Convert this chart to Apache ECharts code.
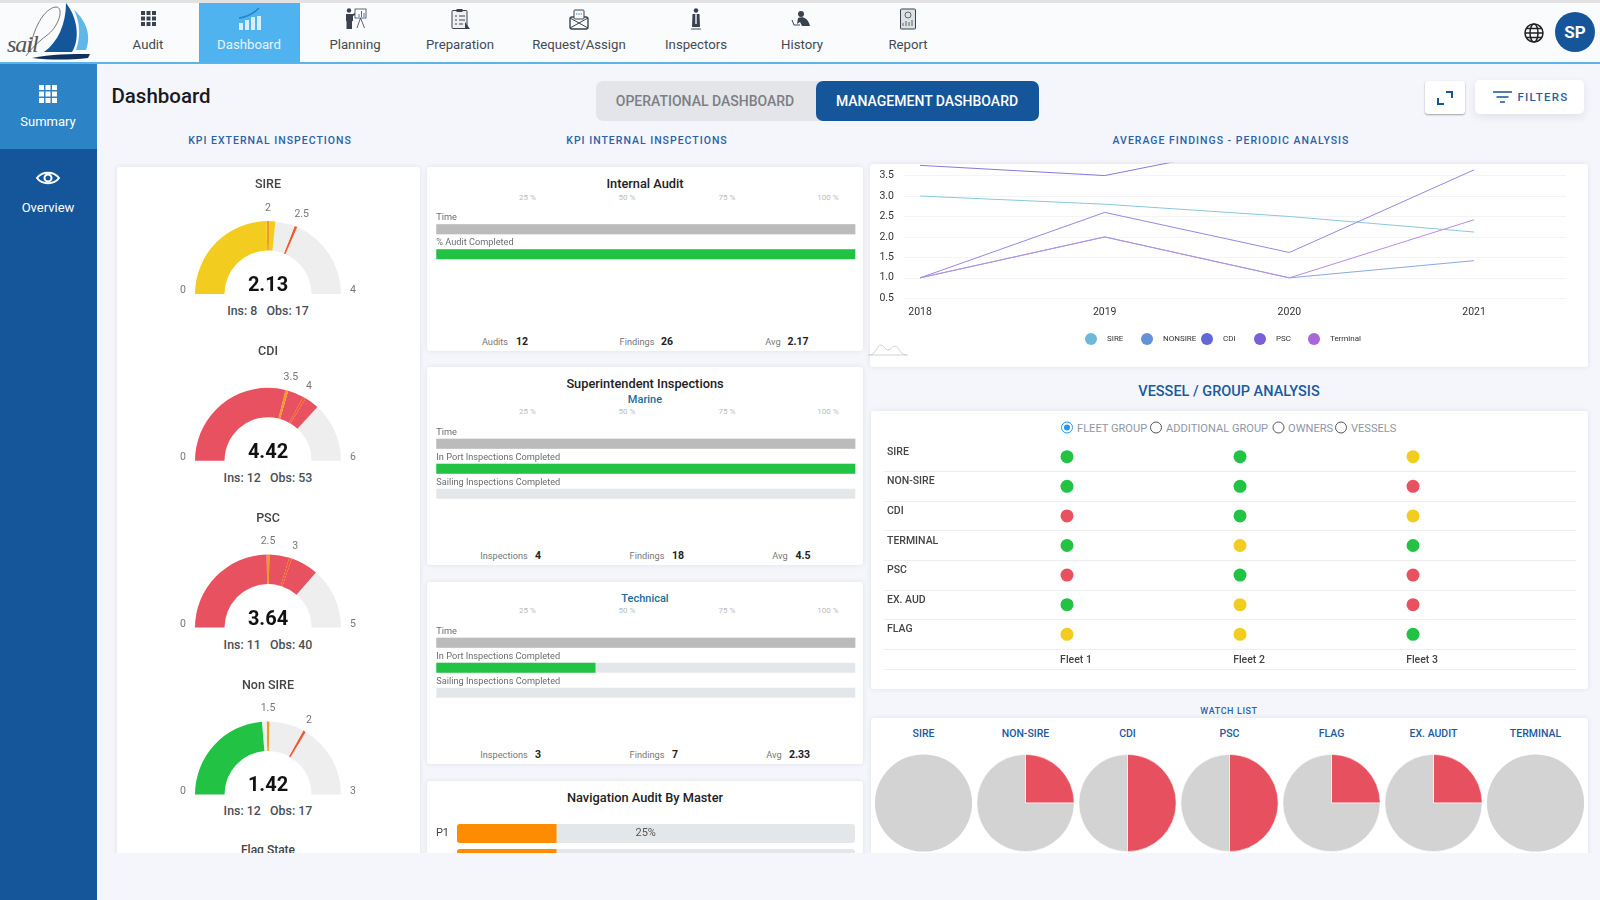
<!DOCTYPE html>
<html>
<head>
<meta charset="utf-8">
<title>Dashboard</title>
<script src="https://cdn.jsdelivr.net/npm/echarts@6/dist/echarts.min.js"></script>
<style>
	html,body{margin:0;padding:0;width:1600px;height:900px;overflow:hidden;background:#f5f6fb;font-family:Roboto,sans-serif;color:#444;}
	.box{position:absolute;box-sizing:border-box;}
	.card{position:absolute;background:#fff;border-radius:3px;box-shadow:0 0 5px rgba(40,50,90,.10);}
	.t{position:absolute;white-space:pre;transform:translate(-50%,-50%);line-height:1;}
	.l{position:absolute;white-space:pre;transform:translateY(-50%);line-height:1;}
	svg{position:absolute;overflow:visible;}
	#main{position:absolute;left:0;top:0;width:1600px;height:900px;z-index:2;}
	#ui{position:absolute;left:0;top:0;width:1600px;height:900px;z-index:1;}
	#cut{position:absolute;left:97px;top:852.5px;width:1503px;height:48px;background:#f5f6fb;z-index:3;}
</style>
</head>
<body>
<div id="ui">
	<!-- top bar -->
	<div class="box" style="left:0;top:0;width:1600px;height:64px;background:#fafbfd;border-top:3px solid #e2e2e2;border-bottom:2px solid #5cb4e8;"></div>
	<div class="box" style="left:199px;top:3px;width:101px;height:60px;background:#4fb3f0;"></div>
	<!-- logo -->
	<svg style="left:0;top:0" width="95" height="62">
		<path d="M66 3 C78 18 80 40 72 52 L44 52 C58 42 66 24 66 3Z" fill="#15569b"/>
		<path d="M74 10 C88 22 91 38 86 50 L76 50 C81 36 80 22 74 10Z" fill="#5fb7ea"/>
		<path d="M32 58 C50 54 72 54 90 54 L88 58 C70 60 50 60 32 58Z" fill="#10305f"/>
		<path d="M30 52 C32 30 44 8 56 7 C64 7 60 26 46 36 C38 42 30 50 26 56" fill="none" stroke="#555" stroke-width=".8"/>
	</svg>
	<div class="l" style="left:7px;top:44px;font:italic 24px 'Liberation Serif';letter-spacing:-1px;color:#555;">sail</div>
	<!-- sidebar -->
	<div class="box" style="left:0;top:64px;width:97px;height:836px;background:#15569b;"></div>
	<div class="box" style="left:0;top:64px;width:97px;height:85px;background:#2c83c5;"></div>
	<svg style="left:39px;top:85px" width="18" height="18" fill="#fff">
		<rect x="0" y="0" width="5" height="5"/><rect x="6.5" y="0" width="5" height="5"/><rect x="13" y="0" width="5" height="5"/>
		<rect x="0" y="6.5" width="5" height="5"/><rect x="6.5" y="6.5" width="5" height="5"/><rect x="13" y="6.5" width="5" height="5"/>
		<rect x="0" y="13" width="5" height="5"/><rect x="6.5" y="13" width="5" height="5"/><rect x="13" y="13" width="5" height="5"/>
	</svg>
	<div class="t" style="left:48px;top:121px;font-size:13px;color:#fff;">Summary</div>
	<svg style="left:36px;top:170px" width="24" height="16">
		<path d="M1 8 C6 1 18 1 23 8 C18 15 6 15 1 8Z" fill="none" stroke="#fff" stroke-width="2"/>
		<circle cx="12" cy="8" r="3.5" fill="none" stroke="#fff" stroke-width="2"/>
	</svg>
	<div class="t" style="left:48px;top:207px;font-size:13px;color:#fff;">Overview</div>

	<!-- nav icons -->
	<svg style="left:141px;top:11px" width="16" height="16" fill="#3a4250">
		<rect x="0" y="0" width="4" height="4"/><rect x="5.5" y="0" width="4" height="4"/><rect x="11" y="0" width="4" height="4"/>
		<rect x="0" y="5.5" width="4" height="4"/><rect x="5.5" y="5.5" width="4" height="4"/><rect x="11" y="5.5" width="4" height="4"/>
		<rect x="0" y="11" width="4" height="4"/><rect x="5.5" y="11" width="4" height="4"/><rect x="11" y="11" width="4" height="4"/>
	</svg>
	<svg style="left:238px;top:7px" width="24" height="24">
		<rect x="1" y="16" width="4" height="7" fill="#d8eefb"/><rect x="7" y="13" width="4" height="10" fill="#d8eefb"/><rect x="13" y="10" width="4" height="13" fill="#d8eefb"/><rect x="19" y="9" width="4" height="14" fill="#d8eefb"/>
		<path d="M1 11 C9 10 15 7 21 1" fill="none" stroke="#2b7fc4" stroke-width="1.5"/>
	</svg>
	<svg style="left:345px;top:8px" width="22" height="22">
		<circle cx="4" cy="2.5" r="2.2" fill="#3a4250"/><path d="M1 6 H8 L12 4 L12.5 5.5 L8 8 V13 H7 V21 H1.5 V13 H1Z" fill="#3a4250"/>
		<rect x="10" y="1" width="11" height="9" fill="#fff" stroke="#3a4250" stroke-width=".8"/><path d="M14 9v-3M16.5 9v-6M19 9v-4" stroke="#2b7fc4"/><path d="M15.5 10 L12 20 M15.5 10 L19.5 20" stroke="#3a4250" stroke-width=".8"/>
	</svg>
	<svg style="left:450px;top:8px" width="22" height="22">
		<rect x="2" y="2.5" width="15" height="18" rx="1" fill="#f0f0f0" stroke="#3a4250"/><rect x="6.5" y="1" width="6" height="3" fill="#3a4250"/>
		<path d="M5 8h2M9 8h6M5 12h2M9 12h6M5 16h2M9 16h4" stroke="#3a4250"/><path d="M15 14 L20 21 H15Z" fill="#3a4250"/>
	</svg>
	<svg style="left:568px;top:8px" width="22" height="22">
		<rect x="2" y="9" width="18" height="12" rx="2" fill="#fafbfd" stroke="#3a4250" stroke-width="1.4"/><path d="M2 10 L20 20 M20 10 L2 20" stroke="#3a4250"/>
		<rect x="6" y="2" width="10" height="9" rx="1" fill="#fafbfd" stroke="#3a4250"/><path d="M8 6h6" stroke="#2b7fc4" stroke-dasharray="1.4 1"/>
	</svg>
	<svg style="left:686px;top:8px" width="20" height="22">
		<circle cx="10" cy="2.5" r="2.3" fill="#3a4250"/><path d="M6.5 6 H13.5 L14 19 H6Z" fill="#3a4250"/><rect x="9" y="6" width="2" height="10" fill="#b8c2cc"/><path d="M5 21 H15" stroke="#9aa4ae" stroke-width="2"/>
	</svg>
	<svg style="left:791px;top:11px" width="22" height="18">
		<circle cx="10" cy="3" r="3" fill="#3a4250"/><path d="M7 7 C12 5 17 7 19 15 H11 L9 11 L6 13Z" fill="#3a4250"/><path d="M1 9 L3 14 H9" fill="none" stroke="#3a4250"/>
	</svg>
	<svg style="left:899px;top:8px" width="18" height="22">
		<rect x="1.5" y="1" width="15" height="20" rx="1" fill="#dfe2e5" stroke="#3a4250"/><circle cx="9" cy="7" r="3" fill="none" stroke="#3a4250" stroke-width=".8"/><path d="M4 18v-3M7 18v-5M10 18v-4M13 18v-6" stroke="#5a6470"/>
	</svg>

	<!-- globe and avatar -->
	<svg style="left:1524px;top:23px" width="20" height="20" fill="none" stroke="#222" stroke-width="1.5">
		<circle cx="10" cy="10" r="9"/><ellipse cx="10" cy="10" rx="4" ry="9"/><path d="M1 10h18M2.5 5.5h15M2.5 14.5h15"/>
	</svg>
	<div class="box" style="left:1555px;top:12px;width:40px;height:40px;border-radius:50%;background:#15569b;"></div>
	<div class="t" style="left:1575px;top:32px;font-size:17px;font-weight:700;color:#fff;">SP</div>

	<!-- tabs and buttons -->
	<div class="t" style="left:161px;top:96px;font-size:20.5px;font-weight:500;color:#1b1b1f;">Dashboard</div>
	<div class="box" style="left:596px;top:81px;width:230px;height:40px;border-radius:7px;background:#e4e5e8;"></div>
	<div class="box" style="left:816px;top:81px;width:223px;height:40px;border-radius:7px;background:#15569b;"></div>
	<div class="t" style="left:705px;top:101px;font-size:14px;font-weight:500;color:#7a7f87;">OPERATIONAL DASHBOARD</div>
	<div class="t" style="left:927px;top:101px;font-size:14px;font-weight:500;color:#fff;">MANAGEMENT DASHBOARD</div>
	<div class="box" style="left:1425px;top:81px;width:40px;height:33px;border-radius:3px;background:#fff;box-shadow:0 1px 2px rgba(0,0,0,.35);"></div>
	<svg style="left:1437px;top:91px" width="16" height="14" fill="none" stroke="#15569b" stroke-width="2">
		<path d="M1 7v6h6M9 1h6v6"/>
	</svg>
	<div class="box" style="left:1475px;top:80px;width:109px;height:34px;border-radius:5px;background:#fff;box-shadow:0 3px 8px rgba(40,50,90,.10);"></div>
	<svg style="left:1493px;top:90px" width="19" height="14" fill="none" stroke="#15569b" stroke-width="1.6">
		<path d="M0 2h19M3.5 7h12M7 12h5"/>
	</svg>
	<div class="t" style="left:1543px;top:97.5px;font-size:11.5px;font-weight:500;letter-spacing:1.3px;color:#2a5f9f;">FILTERS</div>

	<!-- section captions -->
	<div class="t" style="left:270px;top:141px;font-size:10.5px;font-weight:500;letter-spacing:1px;color:#2a62a8;">KPI EXTERNAL INSPECTIONS</div>
	<div class="t" style="left:647px;top:141px;font-size:10.5px;font-weight:500;letter-spacing:1px;color:#2a62a8;">KPI INTERNAL INSPECTIONS</div>
	<div class="t" style="left:1231px;top:141px;font-size:10.5px;font-weight:500;letter-spacing:1px;color:#2a62a8;">AVERAGE FINDINGS - PERIODIC ANALYSIS</div>
	<div class="t" style="left:1229px;top:392px;font-size:14.5px;font-weight:500;color:#1a5aa0;">VESSEL / GROUP ANALYSIS</div>
	<div class="t" style="left:1229px;top:711px;font-size:9px;font-weight:500;letter-spacing:.6px;color:#2a62a8;">WATCH LIST</div>

	<!-- cards -->
	<div class="card" style="left:117px;top:167px;width:303px;height:720px;"></div>
	<div class="card" style="left:427px;top:167px;width:436px;height:184px;"></div>
	<div class="card" style="left:427px;top:367px;width:436px;height:198px;"></div>
	<div class="card" style="left:427px;top:582px;width:436px;height:182px;"></div>
	<div class="card" style="left:427px;top:781px;width:436px;height:110px;"></div>
	<div class="card" style="left:870px;top:164px;width:718px;height:203px;"></div>
	<div class="card" style="left:871px;top:411px;width:717px;height:278px;"></div>
	<div class="card" style="left:871px;top:718px;width:717px;height:170px;"></div>

	<svg style="left:868px;top:344px" width="40" height="12" fill="none" stroke="#c4c6ca" stroke-width=".8">
		<path d="M0 11 H40 M2 11 C8 10 9 1 13 1 C16 1 17 6 20 6 C23 6 24 2 27 2 C31 2 31 10 38 11"/>
	</svg>

	<!-- vessel card extras -->
	<svg style="left:1060px;top:420px" width="300" height="16" fill="none" stroke="#555" stroke-width="1">
		<circle cx="7" cy="7.5" r="5.5" stroke="#2196f3"/><circle cx="7" cy="7.5" r="3" fill="#2196f3" stroke="none"/>
		<circle cx="96" cy="7.5" r="5.5"/><circle cx="218.5" cy="7.5" r="5.5"/><circle cx="281" cy="7.5" r="5.5"/>
	</svg>
	<div class="l" style="left:1077px;top:428.5px;font-size:11.1px;color:#8e97a6;">FLEET GROUP</div>
	<div class="l" style="left:1166px;top:428.5px;font-size:11.1px;color:#8e97a6;">ADDITIONAL GROUP</div>
	<div class="l" style="left:1288px;top:428.5px;font-size:11.1px;color:#8e97a6;">OWNERS</div>
	<div class="l" style="left:1351px;top:428.5px;font-size:11.1px;color:#8e97a6;">VESSELS</div>
	<div class="box" style="left:884px;top:669px;width:692px;height:1px;background:#eceef0;"></div>
</div>

<div id="main"></div>
<div id="cut"></div>

<script type="text/javascript">
	// gauges - external inspections
	var gaugeNames = ['SIRE', 'CDI', 'PSC', 'Non SIRE'];
	var gaugeValues = [2.13, 4.42, 3.64, 1.42];
	var gaugeMax = [4, 6, 5, 3];
	var gaugeMarkLow = [2, 3.5, 2.5, 1.5];
	var gaugeMarkHigh = [2.5, 4, 3, 2];
	var gaugeIns = [8, 12, 11, 12];
	var gaugeObs = [17, 53, 40, 17];
	var gaugeColors = ['#f2cd1f', '#e8515f', '#e8515f', '#22c244'];

	// internal inspections bars (percent)
	var auditRows = ['Time', '% Audit Completed'];
	var auditValues = [100, 100];
	var marineRows = ['Time', 'In Port Inspections Completed', 'Sailing Inspections Completed'];
	var marineValues = [100, 100, 0];
	var technicalRows = ['Time', 'In Port Inspections Completed', 'Sailing Inspections Completed'];
	var technicalValues = [100, 38, 0];
	var navRows = ['P1', 'P2'];
	var navValues = [25, 25];
	var percentTicks = ['25 %', '50 %', '75 %', '100 %'];

	// average findings
	var years = [2018, 2019, 2020, 2021];
	var sireFindings = [3.0, 2.8, 2.5, 2.12];
	var nonsireFindings = [1.0, 2.0, 1.0, 1.42];
	var cdiFindings = [3.75, 3.5, 4.4, 4.42];
	var pscFindings = [1.0, 2.6, 1.62, 3.64];
	var terminalFindings = [1.0, 2.0, 1.0, 2.42];
	var findingNames = ['SIRE', 'NONSIRE', 'CDI', 'PSC', 'Terminal'];
	var findingColors = ['#6cb9da', '#6591d9', '#6266d8', '#7a5fd8', '#aa66d8'];
	var findingLineColors = ['#88c8dc', '#8aa8e0', '#8878dc', '#9a86e0', '#b98ce0'];
	var legendLeft = [1080, 1136, 1196, 1249, 1303];

	// vessel / group matrix
	var vesselRows = ['SIRE', 'NON-SIRE', 'CDI', 'TERMINAL', 'PSC', 'EX. AUD', 'FLAG'];
	var fleetNumbers = [1, 2, 3];
	var fleet1Status = ['g', 'g', 'r', 'g', 'r', 'g', 'y'];
	var fleet2Status = ['g', 'g', 'g', 'y', 'g', 'y', 'y'];
	var fleet3Status = ['y', 'r', 'y', 'g', 'r', 'r', 'g'];
	var statusColors = {g: '#22c244', r: '#e8515f', y: '#f2cd1f'};

	// watch list
	var watchNames = ['SIRE', 'NON-SIRE', 'CDI', 'PSC', 'FLAG', 'EX. AUDIT', 'TERMINAL'];
	var watchRed = [0, 1, 2, 2, 1, 1, 0];
	var watchGrey = [4, 3, 2, 2, 3, 3, 4];

	var ui = document.getElementById('ui');
	function addText(text, x, y, css) {
		var d = document.createElement('div');
		d.className = 't';
		d.textContent = text;
		d.style.cssText = 'left:' + x + 'px;top:' + y + 'px;' + css;
		ui.appendChild(d);
	}

	// nav labels
	var navNames = ['Audit', 'Dashboard', 'Planning', 'Preparation', 'Request/Assign', 'Inspectors', 'History', 'Report'];
	var navX = [148, 249, 355, 460, 579, 696, 802, 908];
	navNames.forEach(function (n, i) {
		addText(n, navX[i], 45, 'font-size:13.2px;color:' + (i == 1 ? '#e8f5fd' : '#444a52') + ';');
	});

	// card headings
	addText('Internal Audit', 645, 183.5, 'font-size:12.8px;font-weight:500;color:#222;');
	addText('Superintendent Inspections', 645, 384, 'font-size:12.8px;font-weight:500;color:#222;');
	addText('Marine', 645, 399, 'font-size:11px;font-weight:500;color:#1a6e9a;');
	addText('Technical', 645, 598, 'font-size:11px;font-weight:500;color:#1a6e9a;');
	addText('Navigation Audit By Master', 645, 798, 'font-size:12.8px;font-weight:500;color:#222;');
	addText('Flag State', 268, 850, 'font-size:12px;font-weight:500;color:#444;');
	[197.5, 412, 611].forEach(function (y) {
		percentTicks.forEach(function (p, i) {
			addText(p, [527.5, 627, 727, 828][i], y, 'font-size:8px;color:#b9bcc0;');
		});
	});

	// card footers
	function addFooter(y, labels, numbers, labelX, numX) {
		labels.forEach(function (l, i) {
			addText(l, labelX[i], y, 'font-size:9.2px;color:#777;');
			addText(numbers[i], numX[i], y, 'font-size:10.5px;font-weight:700;color:#222;');
		});
	}
	addFooter(341.5, ['Audits', 'Findings', 'Avg'], ['12', '26', '2.17'], [495, 637, 773], [522, 667, 798]);
	addFooter(555.5, ['Inspections', 'Findings', 'Avg'], ['4', '18', '4.5'], [504, 647, 780], [538, 678, 803]);
	addFooter(754.5, ['Inspections', 'Findings', 'Avg'], ['3', '7', '2.33'], [504, 647, 774], [538, 675, 799.5]);

	watchNames.forEach(function (n, i) {
		addText(n, 923.5 + i * 102, 734, 'font-size:10.5px;font-weight:500;color:#1a5aa0;');
	});

	var myChart = echarts.init(document.getElementById('main'));
	var series = [], grids = [], xAxes = [], yAxes = [];

	// gauge arc colours, thresholds are thin bands inside the arc
	function gaugeBands(value, max, low, high, fill) {
		var w = 0.006, f = value / max, a = low / max, b = high / max;
		var pts = [f, a - w, a + w, b - w, b + w, 1].sort(function (p, q) { return p - q; });
		var prev = 0;
		return pts.map(function (p) {
			var mid = (prev + p) / 2, c = mid < f ? fill : '#eeeeee';
			if (Math.abs(mid - a) < w) c = '#f09a24';
			if (Math.abs(mid - b) < w) c = '#ef5a2e';
			prev = p;
			return [p, c];
		});
	}

	gaugeNames.forEach(function (name, i) {
		var cy = 294 + i * 166.8;
		var max = gaugeMax[i];
		series.push({
			type: 'gauge',
			center: [268, cy],
			radius: 73,
			startAngle: 180,
			endAngle: 0,
			min: 0,
			max: max,
			pointer: {show: false},
			progress: {show: false},
			axisTick: {show: false},
			splitLine: {show: false},
			axisLabel: {show: false},
			axisLine: {lineStyle: {width: 29.5, color: gaugeBands(gaugeValues[i], max, gaugeMarkLow[i], gaugeMarkHigh[i], gaugeColors[i])}},
			title: {offsetCenter: [0, -109], fontSize: 12.5, fontWeight: 500, color: '#444'},
			detail: {offsetCenter: [0, -8], fontSize: 20, fontWeight: 'bold', color: '#111', formatter: function (v) { return v.toFixed(2); }},
			data: [{value: gaugeValues[i], name: name}]
		});
		// scale labels sit a little above the arc base, so they get their own gauge
		series.push({
			type: 'gauge',
			center: [268, cy - 3.5],
			radius: 73,
			startAngle: 180,
			endAngle: 0,
			min: 0,
			max: max,
			splitNumber: max * 2,
			pointer: {show: false},
			progress: {show: false},
			axisTick: {show: false},
			axisLine: {show: false},
			splitLine: {show: false, length: 0, distance: 0},
			axisLabel: {
				distance: -15,
				fontSize: 10.5,
				color: '#777',
				formatter: (function (k) {
					return function (v) {
						return (v == 0 || v == gaugeMax[k] || v == gaugeMarkLow[k] || v == gaugeMarkHigh[k]) ? String(v) : '';
					};
				})(i)
			},
			title: {show: false},
			detail: {show: false},
			data: [{value: gaugeValues[i]}]
		});
		addText('Ins: ' + gaugeIns[i] + '   Obs: ' + gaugeObs[i], 268, cy + 17, 'font-size:12.4px;font-weight:500;color:#4a4f57;');
	});

	// progress bars of the internal inspection cards
	function addBars(rows, values, top) {
		var n = grids.length;
		grids.push({left: 436.3, width: 419, top: top, height: rows.length * 25});
		xAxes.push({gridIndex: n, type: 'value', min: 0, max: 100, show: false});
		yAxes.push({
			gridIndex: n, type: 'category', inverse: true, data: rows,
			axisLine: {show: false}, axisTick: {show: false},
			axisLabel: {inside: true, margin: 0, align: 'left', verticalAlign: 'bottom', padding: [0, 0, 7, 0], fontSize: 9.2, color: '#6a6d70'}
		});
		series.push({
			type: 'bar', xAxisIndex: n, yAxisIndex: n, barWidth: 10,
			showBackground: true, backgroundStyle: {color: '#e4e7e9'},
			data: values.map(function (v, k) { return {value: v, itemStyle: {color: k == 0 ? '#bbbbbb' : '#22c244'}}; })
		});
	}
	addBars(auditRows, auditValues, 216.8);
	addBars(marineRows, marineValues, 431.2);
	addBars(technicalRows, technicalValues, 630.2);

	// navigation audit
	var navGrid = grids.length;
	grids.push({left: 457, width: 398, top: 821, height: 50});
	xAxes.push({gridIndex: navGrid, type: 'value', min: 0, max: 100, show: false});
	yAxes.push({
		gridIndex: navGrid, type: 'category', inverse: true, data: navRows,
		axisLine: {show: false}, axisTick: {show: false},
		axisLabel: {margin: 8, fontSize: 11, color: '#444'}
	});
	series.push({
		type: 'bar', xAxisIndex: navGrid, yAxisIndex: navGrid, barWidth: 19,
		showBackground: true, backgroundStyle: {color: '#e4e7e9', borderRadius: 3},
		itemStyle: {color: '#ff8c00', borderRadius: [3, 0, 0, 3]},
		label: {show: true, position: 'right', distance: 79, formatter: '{c}%', fontSize: 11, color: '#555'},
		data: navValues
	});

	// average findings line chart
	var lineGrid = grids.length;
	grids.push({left: 904, width: 662, top: 163.3, height: 135});
	xAxes.push({
		gridIndex: lineGrid, type: 'value', min: 2017.913, max: 2021.498,
		axisLine: {show: false}, splitLine: {show: false},
		axisTick: {show: false, customValues: years},
		axisLabel: {customValues: years, margin: 9, fontSize: 10.5, color: '#333', formatter: function (v) { return String(v); }}
	});
	yAxes.push({
		gridIndex: lineGrid, type: 'value', min: 0.5, max: 3.8, interval: 0.5,
		axisLine: {show: false}, axisTick: {show: false},
		axisLabel: {showMaxLabel: false, margin: 10, fontSize: 10.5, color: '#333', formatter: function (v) { return v.toFixed(1); }},
		splitLine: {showMaxLine: false, lineStyle: {color: '#f3f4f6'}}
	});
	[sireFindings, nonsireFindings, cdiFindings, pscFindings, terminalFindings].forEach(function (vals, i) {
		series.push({
			name: findingNames[i], type: 'line', xAxisIndex: lineGrid, yAxisIndex: lineGrid,
			symbol: 'none', lineStyle: {width: 1, color: findingLineColors[i]}, itemStyle: {color: findingColors[i]},
			data: years.map(function (y, k) { return [y, vals[k]]; })
		});
	});
	var legends = findingNames.map(function (n, i) {
		return {
			data: [n], left: legendLeft[i], top: 328, icon: 'circle',
			itemWidth: 12, itemHeight: 12, selectedMode: false,
			textStyle: {fontSize: 8, color: '#333', padding: [0, 0, 0, 5]}
		};
	});

	// vessel / group status dots
	var vesselGrid = grids.length;
	grids.push({left: 884, width: 692, top: 441.9, height: 207.2});
	xAxes.push({
		gridIndex: vesselGrid, type: 'value', min: -0.0578, max: 3.942,
		axisLine: {show: false}, splitLine: {show: false},
		axisTick: {show: false, customValues: fleetNumbers},
		axisLabel: {customValues: fleetNumbers, margin: 6, padding: [0, 0, 0, 18], fontSize: 10.5, fontWeight: 500, color: '#444', formatter: function (v) { return 'Fleet ' + v; }}
	});
	yAxes.push({
		gridIndex: vesselGrid, type: 'category', inverse: true, data: vesselRows,
		axisLine: {show: false}, axisTick: {show: false},
		axisLabel: {inside: true, margin: 3, align: 'left', verticalAlign: 'bottom', lineHeight: 9, fontSize: 10.5, fontWeight: 500, color: '#444'},
		splitLine: {show: true, showMinLine: false, lineStyle: {color: '#eceef0'}}
	});
	[fleet1Status, fleet2Status, fleet3Status].forEach(function (status, i) {
		series.push({
			type: 'scatter', xAxisIndex: vesselGrid, yAxisIndex: vesselGrid, symbolSize: 13,
			data: status.map(function (s, k) {
				return {value: [fleetNumbers[i], k], itemStyle: {color: statusColors[s], opacity: 1}};
			})
		});
	});

	// watch list pies
	watchNames.forEach(function (n, i) {
		series.push({
			type: 'pie', center: [923.5 + i * 102, 803], radius: 48.6,
			startAngle: 90, clockwise: true, label: {show: false}, labelLine: {show: false}, silent: true,
			itemStyle: {borderColor: 'rgba(255,255,255,.7)', borderWidth: watchRed[i] ? 0.8 : 0},
			data: [
				{name: n + ' red', value: watchRed[i], itemStyle: {color: '#e6505f'}},
				{name: n + ' grey', value: watchGrey[i], itemStyle: {color: '#d3d3d3'}}
			]
		});
	});

	var option = {
		animation: false,
		textStyle: {fontFamily: 'Roboto'},
		legend: legends,
		grid: grids,
		xAxis: xAxes,
		yAxis: yAxes,
		series: series
	};
	myChart.setOption(option);
</script>
</body>
</html>
